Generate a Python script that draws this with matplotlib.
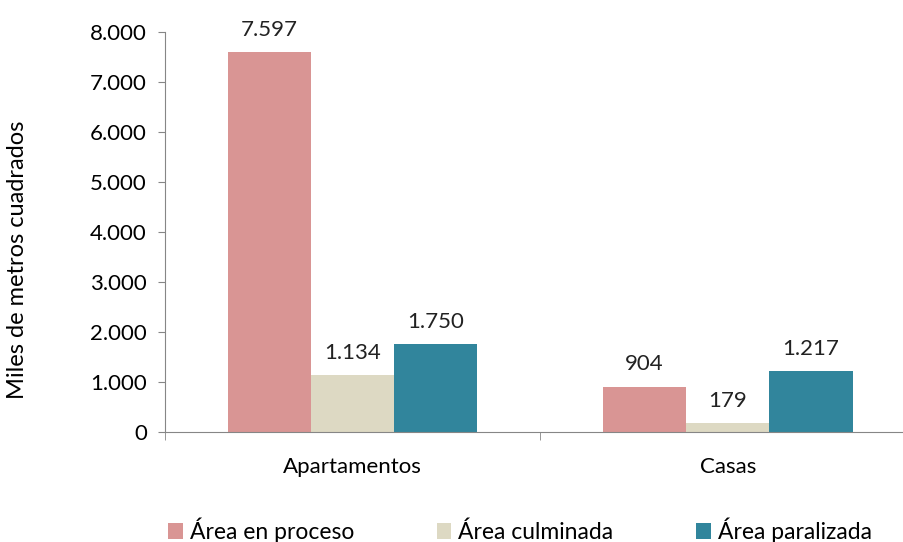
import matplotlib.pyplot as plt
import numpy as np
from matplotlib.ticker import FuncFormatter

# Área de obra por tipo de vivienda (miles de m2)
categorias = ["Apartamentos", "Casas"]
series = ["Área en proceso", "Área culminada", "Área paralizada"]
en_proceso = [7597, 904]
culminada = [1134, 179]
paralizada = [1750, 1217]
colores = ["#D99594", "#DDD9C3", "#31859C"]

plt.rcParams['font.family'] = ['Lato', 'DejaVu Sans']

fig = plt.figure(figsize=(9.04, 5.42), dpi=100)
ax = fig.add_axes([0.1825, 0.203, 0.83, 0.738])

x = np.arange(len(categorias))
ancho = 0.222
valores = [en_proceso, culminada, paralizada]
for i, (nombre, vals, color) in enumerate(zip(series, valores, colores)):
    pos = x + (i - 1) * ancho
    ax.bar(pos, vals, width=ancho, color=color, label=nombre)
    for p, v in zip(pos, vals):
        etiqueta = f"{v:,}".replace(",", ".")
        ax.annotate(etiqueta, (p, v), xytext=(0, 9), textcoords="offset points",
                    ha="center", va="bottom", fontsize=16, color="#222222")

ax.set_xlim(-0.5, 1.5)
ax.set_ylim(0, 8000)
ax.set_yticks(range(0, 8001, 1000))
ax.yaxis.set_major_formatter(FuncFormatter(lambda v, _: f"{int(v):,}".replace(",", ".")))
ax.set_xticks(x)
ax.set_xticklabels(categorias)
ax.set_xticks([-0.5, 0.5, 1.5], minor=True)
ax.tick_params(axis="x", which="major", length=0, pad=18, labelsize=16)
ax.tick_params(axis="x", which="minor", length=6, color="#868686")
ax.tick_params(axis="y", length=5, color="#868686", labelsize=16, pad=8)

for lado in ["top", "right"]:
    ax.spines[lado].set_visible(False)
for lado in ["left", "bottom"]:
    ax.spines[lado].set_color("#868686")

ax.set_ylabel("Miles de metros cuadrados", fontsize=17)
ax.yaxis.set_label_coords(-0.182, 0.43)

fig.legend(loc="lower center", bbox_to_anchor=(0.575, -0.04), ncol=3, frameon=False,
           fontsize=16.5, handlelength=0.65, handleheight=0.65, handletextpad=0.3,
           columnspacing=3.6)

fig.savefig("out.png", dpi=100)
